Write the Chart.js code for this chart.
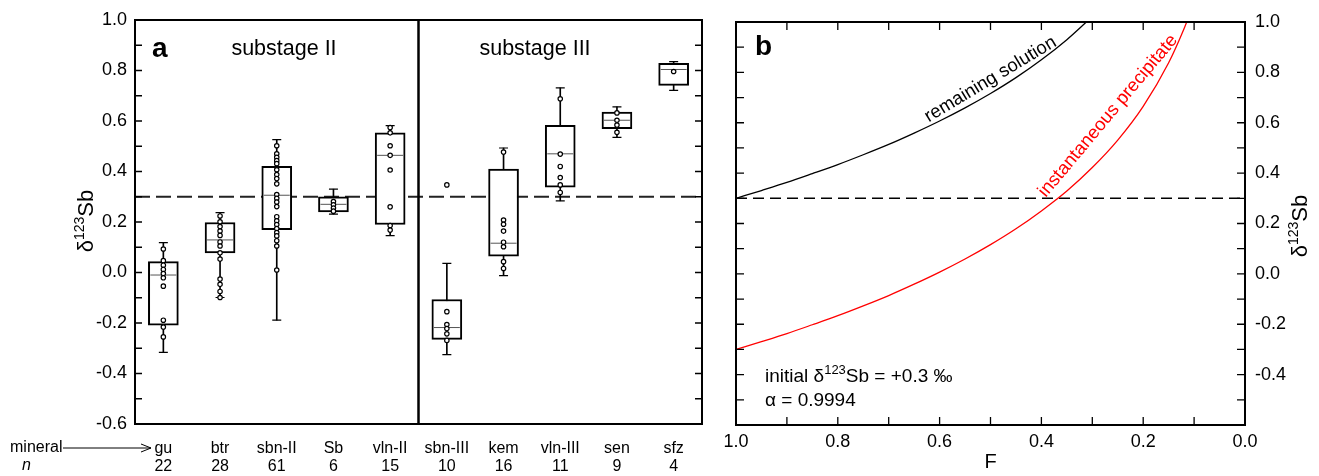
<!DOCTYPE html>
<html><head><meta charset="utf-8">
<script src="https://cdn.jsdelivr.net/npm/chart.js@4.4.1/dist/chart.umd.min.js"></script>
<style>
html,body{margin:0;padding:0;background:#fff;}
#wrap{position:relative;width:1319px;height:476px;overflow:hidden;background:#fff;}
#c1{position:absolute;left:0;top:0;width:720px;height:476px;}
#c2{position:absolute;left:720px;top:0;width:599px;height:476px;}
</style></head><body>
<div id="wrap"><canvas id="c1" width="720" height="476"></canvas><canvas id="c2" width="599" height="476"></canvas></div>
<script>
// ---------- data (panel a) ----------
const minerals = ['gu','btr','sbn-II','Sb','vln-II','sbn-III','kem','vln-III','sen','sfz'];
const counts   = [22, 28, 61, 6, 15, 10, 16, 11, 9, 4];
const whiskerLow  = [-0.316, -0.099, -0.189, 0.231, 0.146, -0.325, -0.012, 0.284, 0.535, 0.721];
const q1          = [-0.209,  0.078,  0.170, 0.240, 0.190, -0.265,  0.065, 0.338, 0.570, 0.741];
const median      = [-0.010,  0.129,  0.306, 0.270, 0.464, -0.218,  0.116, 0.470, 0.603, 0.804];
const q3          = [ 0.043,  0.198,  0.420, 0.300, 0.553, -0.107,  0.410, 0.583, 0.635, 0.828];
const whiskerHigh = [ 0.118,  0.237,  0.526, 0.330, 0.582,  0.036,  0.493, 0.731, 0.656, 0.835];
const ptsGu    = [0.093, 0.047, 0.029, 0.012, -0.004, -0.021, -0.054, -0.189, -0.216, -0.255];
const ptsBtr   = [0.224, 0.201, 0.182, 0.164, 0.147, 0.121, 0.105, 0.078, 0.053, -0.026, -0.047, -0.075, -0.099];
const ptsSbnII = [0.502, 0.470, 0.456, 0.443, 0.431, 0.407, 0.388, 0.372, 0.351, 0.309, 0.294, 0.279, 0.261, 0.221, 0.205, 0.190, 0.174, 0.158, 0.145, 0.126, 0.105, 0.010];
const ptsSb    = [0.281, 0.268, 0.255, 0.243];
const ptsVlnII = [0.574, 0.553, 0.502, 0.464, 0.406, 0.260, 0.186, 0.168];
const ptsSbnIII= [0.347, -0.155, -0.206, -0.222, -0.243, -0.269];
const ptsKem   = [0.477, 0.208, 0.191, 0.164, 0.120, 0.102, 0.043, 0.016];
const ptsVlnIII= [0.688, 0.469, 0.420, 0.376, 0.347, 0.317];
const ptsSen   = [0.632, 0.603, 0.584, 0.555];
const ptsSfz   = [0.796];
const pointLists = [ptsGu, ptsBtr, ptsSbnII, ptsSb, ptsVlnII, ptsSbnIII, ptsKem, ptsVlnIII, ptsSen, ptsSfz];
const initialDelta = 0.3;
const substageBoundary = 4.5;   // between vln-II and sbn-III (category index units)

// ---------- data (panel b) ----------
const fSolution   = [1.0, 0.95, 0.9, 0.85, 0.8, 0.75, 0.7, 0.65, 0.6, 0.55, 0.5, 0.45, 0.4, 0.35, 0.31];
const solution    = [0.300, 0.331, 0.363, 0.398, 0.434, 0.473, 0.514, 0.559, 0.607, 0.659, 0.716, 0.779, 0.850, 0.930, 1.003];
const fPrecip     = [1.0, 0.95, 0.9, 0.85, 0.8, 0.75, 0.7, 0.65, 0.6, 0.55, 0.5, 0.45, 0.4, 0.35, 0.3, 0.25, 0.2, 0.15, 0.12, 0.11];
const precipitate = [-0.300, -0.269, -0.237, -0.202, -0.166, -0.127, -0.086, -0.041, 0.007, 0.059, 0.116, 0.179, 0.250, 0.329, 0.422, 0.531, 0.665, 0.838, 0.972, 1.024];

const FONT = '"Liberation Sans", Arial, Helvetica, sans-serif';
Chart.defaults.font.family = FONT;
Chart.defaults.color = '#000';

function evenLabel(v, skipBottom) {
  const k = Math.round(v * 10);
  if (k % 2 !== 0) return '';
  if (skipBottom && k === -6) return '';
  return (k / 10).toFixed(1);
}

function richDraw(ctx, parts, x, y, align) {
  let w = 0;
  for (const p of parts) { ctx.font = (p.style || '') + ' ' + p.size + 'px ' + FONT; w += ctx.measureText(p.t).width; }
  let cx = align === 'center' ? x - w / 2 : x;
  ctx.textAlign = 'left'; ctx.textBaseline = 'alphabetic';
  for (const p of parts) {
    ctx.font = (p.style || '') + ' ' + p.size + 'px ' + FONT;
    ctx.fillText(p.t, cx, y + (p.dy || 0));
    cx += ctx.measureText(p.t).width;
  }
}
function deltaTitle(main, sup) {
  return [{t:'\u03b4', size:main}, {t:'123', size:sup, dy:-main*0.42}, {t:'Sb', size:main}];
}

// ---------- panel a ----------
const leftDecor = {
  id: 'leftDecor',
  afterDraw(chart) {
    const {ctx, chartArea: a, scales: {y}} = chart;
    ctx.save();
    ctx.strokeStyle = '#000'; ctx.lineWidth = 1.3;
    y.ticks.forEach(t => {
      const py = y.getPixelForValue(t.value);
      ctx.beginPath();
      ctx.moveTo(a.left, py); ctx.lineTo(a.left + 7, py);
      ctx.moveTo(a.right, py); ctx.lineTo(a.right - 7, py);
      ctx.stroke();
    });
    ctx.lineWidth = 2;
    ctx.strokeRect(a.left, a.top, a.right - a.left, a.bottom - a.top);
    ctx.fillStyle = '#000';
    ctx.font = 'bold 28px ' + FONT; ctx.textAlign = 'left'; ctx.textBaseline = 'alphabetic';
    ctx.fillText('a', 152, 57);
    ctx.font = '21.5px ' + FONT; ctx.textAlign = 'center';
    ctx.fillText('substage II', 284, 55);
    ctx.fillText('substage III', 535, 55);
    // row headers
    ctx.font = '16px ' + FONT; ctx.textAlign = 'left'; ctx.textBaseline = 'middle';
    ctx.fillText('mineral', 10, 448);
    ctx.font = 'italic 16px ' + FONT;
    ctx.fillText('n', 22, 466);
    ctx.lineWidth = 1;
    ctx.beginPath(); ctx.moveTo(63, 448); ctx.lineTo(151, 448);
    ctx.moveTo(141, 444); ctx.lineTo(151, 448); ctx.lineTo(141, 452);
    ctx.stroke();
    // y title
    ctx.translate(85, 221); ctx.rotate(-Math.PI / 2);
    richDraw(ctx, deltaTitle(22, 14), 0, 8, 'center');
    ctx.restore();
  }
};

const ptData = [];
pointLists.forEach((arr, i) => arr.forEach(v => ptData.push({x: minerals[i], y: v})));

new Chart(document.getElementById('c1'), {
  type: 'bar',
  data: {
    labels: minerals,
    datasets: [
      { type: 'line', xAxisID: 'x2', data: [{x: -0.5, y: initialDelta}, {x: 9.5, y: initialDelta}],
        borderColor: '#222', borderWidth: 1.8, borderDash: [15, 6], pointRadius: 0, order: 20 },
      { type: 'bar', data: minerals.map((m, i) => [whiskerLow[i], whiskerHigh[i]]), grouped: false,
        barThickness: 1, backgroundColor: '#000', borderWidth: 0, order: 15 },
      { type: 'bar', data: minerals.map((m, i) => [q1[i], q3[i]]), grouped: false,
        barThickness: 30, backgroundColor: '#fff', borderColor: '#000', borderWidth: 2, borderSkipped: false, order: 14 },
      { type: 'line', showLine: false, data: minerals.flatMap((m, i) => [{x: m, y: whiskerLow[i]}, {x: m, y: whiskerHigh[i]}]),
        pointStyle: 'line', pointRadius: 4.5, pointBorderColor: '#000', pointBorderWidth: 1.2, order: 13 },
      { type: 'line', showLine: false, data: minerals.map((m, i) => ({x: m, y: median[i]})),
        pointStyle: 'line', pointRadius: 13, pointBorderColor: '#555', pointBorderWidth: 1, order: 12 },
      { type: 'line', showLine: false, data: ptData,
        pointRadius: 2.2, pointBackgroundColor: '#fff', pointBorderColor: '#000', pointBorderWidth: 1.2, order: 11 },
      { type: 'line', xAxisID: 'x2', data: [{x: substageBoundary, y: -0.6}, {x: substageBoundary, y: 1.0}],
        borderColor: '#000', borderWidth: 2.5, pointRadius: 0, order: 1 }
    ]
  },
  options: {
    responsive: false, animation: false,
    layout: { padding: { left: 0, right: 18, top: 20, bottom: 0 } },
    plugins: { legend: { display: false }, tooltip: { enabled: false } },
    scales: {
      x: {
        type: 'category', offset: true,
        grid: { display: false, drawTicks: false }, border: { display: false },
        ticks: { autoSkip: false, maxRotation: 0, padding: 15, color: '#000',
                 font: { size: 16, lineHeight: 1.15 },
                 callback: (v, i) => [minerals[i], String(counts[i])] },
        afterFit: s => { s.height = 52; }
      },
      x2: { type: 'linear', axis: 'x', display: false, offset: false, grace: 0, min: -0.5, max: 9.5 },
      y: {
        min: -0.6, max: 1.0,
        grid: { display: false, drawTicks: false }, border: { display: false },
        ticks: { stepSize: 0.1, padding: 8, color: '#000', font: { size: 18 },
                 callback: v => evenLabel(v, false) },
        afterFit: s => { s.width = 135; }
      }
    }
  },
  plugins: [leftDecor]
});

// ---------- panel b ----------
const rightDecor = {
  id: 'rightDecor',
  afterDraw(chart) {
    const {ctx, chartArea: a, scales: {x, y}} = chart;
    ctx.save();
    ctx.strokeStyle = '#000'; ctx.lineWidth = 1.3;
    y.ticks.forEach(t => {
      const py = y.getPixelForValue(t.value);
      ctx.beginPath();
      ctx.moveTo(a.left, py); ctx.lineTo(a.left + 8, py);
      ctx.moveTo(a.right, py); ctx.lineTo(a.right - 8, py);
      ctx.stroke();
    });
    x.ticks.forEach(t => {
      const px = x.getPixelForValue(t.value);
      ctx.beginPath();
      ctx.moveTo(px, a.bottom); ctx.lineTo(px, a.bottom - 8);
      ctx.moveTo(px, a.top); ctx.lineTo(px, a.top + 8);
      ctx.stroke();
    });
    ctx.lineWidth = 2;
    ctx.strokeRect(a.left, a.top, a.right - a.left, a.bottom - a.top);
    ctx.fillStyle = '#000';
    ctx.font = 'bold 28px ' + FONT; ctx.textAlign = 'left'; ctx.textBaseline = 'alphabetic';
    ctx.fillText('b', 35, 55);
    // curve labels
    ctx.save();
    ctx.translate(x.getPixelForValue(0.50), y.getPixelForValue(0.772));
    ctx.rotate(-31 * Math.PI / 180);
    ctx.font = '18.5px ' + FONT; ctx.textAlign = 'center'; ctx.textBaseline = 'middle';
    ctx.fillText('remaining solution', 0, 0);
    ctx.restore();
    ctx.save();
    ctx.translate(x.getPixelForValue(0.269), y.getPixelForValue(0.627));
    ctx.rotate(-50 * Math.PI / 180);
    ctx.fillStyle = '#ff0000';
    ctx.font = '18.5px ' + FONT; ctx.textAlign = 'center'; ctx.textBaseline = 'middle';
    ctx.fillText('instantaneous precipitate', 0, 0);
    ctx.restore();
    // model text
    ctx.fillStyle = '#000';
    richDraw(ctx, [{t:'initial \u03b4', size:19}, {t:'123', size:13, dy:-8}, {t:'Sb = +0.3 \u2030', size:19}], 45, 382, 'left');
    richDraw(ctx, [{t:'\u03b1 = 0.9994', size:19}], 45, 406, 'left');
    // right y title
    ctx.translate(579, 226); ctx.rotate(-Math.PI / 2);
    richDraw(ctx, deltaTitle(22, 14), 0, 8, 'center');
    ctx.restore();
  }
};

new Chart(document.getElementById('c2'), {
  type: 'scatter',
  data: {
    datasets: [
      { data: [{x: 1, y: initialDelta}, {x: 0, y: initialDelta}], showLine: true,
        borderColor: '#000', borderWidth: 1.6, borderDash: [11, 6], pointRadius: 0, order: 3 },
      { data: fSolution.map((f, i) => ({x: f, y: solution[i]})), showLine: true,
        borderColor: '#000', borderWidth: 1.3, pointRadius: 0, cubicInterpolationMode: 'monotone', order: 2 },
      { data: fPrecip.map((f, i) => ({x: f, y: precipitate[i]})), showLine: true,
        borderColor: '#ff0000', borderWidth: 1.3, pointRadius: 0, cubicInterpolationMode: 'monotone', order: 1 }
    ]
  },
  options: {
    responsive: false, animation: false,
    layout: { padding: { left: 16, right: 0, top: 22, bottom: 0 } },
    plugins: { legend: { display: false }, tooltip: { enabled: false } },
    scales: {
      x: {
        type: 'linear', reverse: true, min: 0, max: 1,
        grid: { display: false }, border: { display: false },
        ticks: { stepSize: 0.1, padding: -2, color: '#000', font: { size: 18 }, maxRotation: 0,
                 callback: v => evenLabel(v, false) },
        title: { display: true, text: 'F', color: '#000', font: { size: 20 }, padding: { top: 0, bottom: 2 } },
        afterFit: s => { s.height = 51; }
      },
      y: {
        position: 'right', min: -0.6, max: 1.0,
        grid: { display: false, drawTicks: false }, border: { display: false },
        ticks: { stepSize: 0.1, padding: 10, color: '#000', font: { size: 18 },
                 callback: v => evenLabel(v, true) },
        afterFit: s => { s.width = 74; }
      }
    }
  },
  plugins: [rightDecor]
});
</script>
</body></html>
